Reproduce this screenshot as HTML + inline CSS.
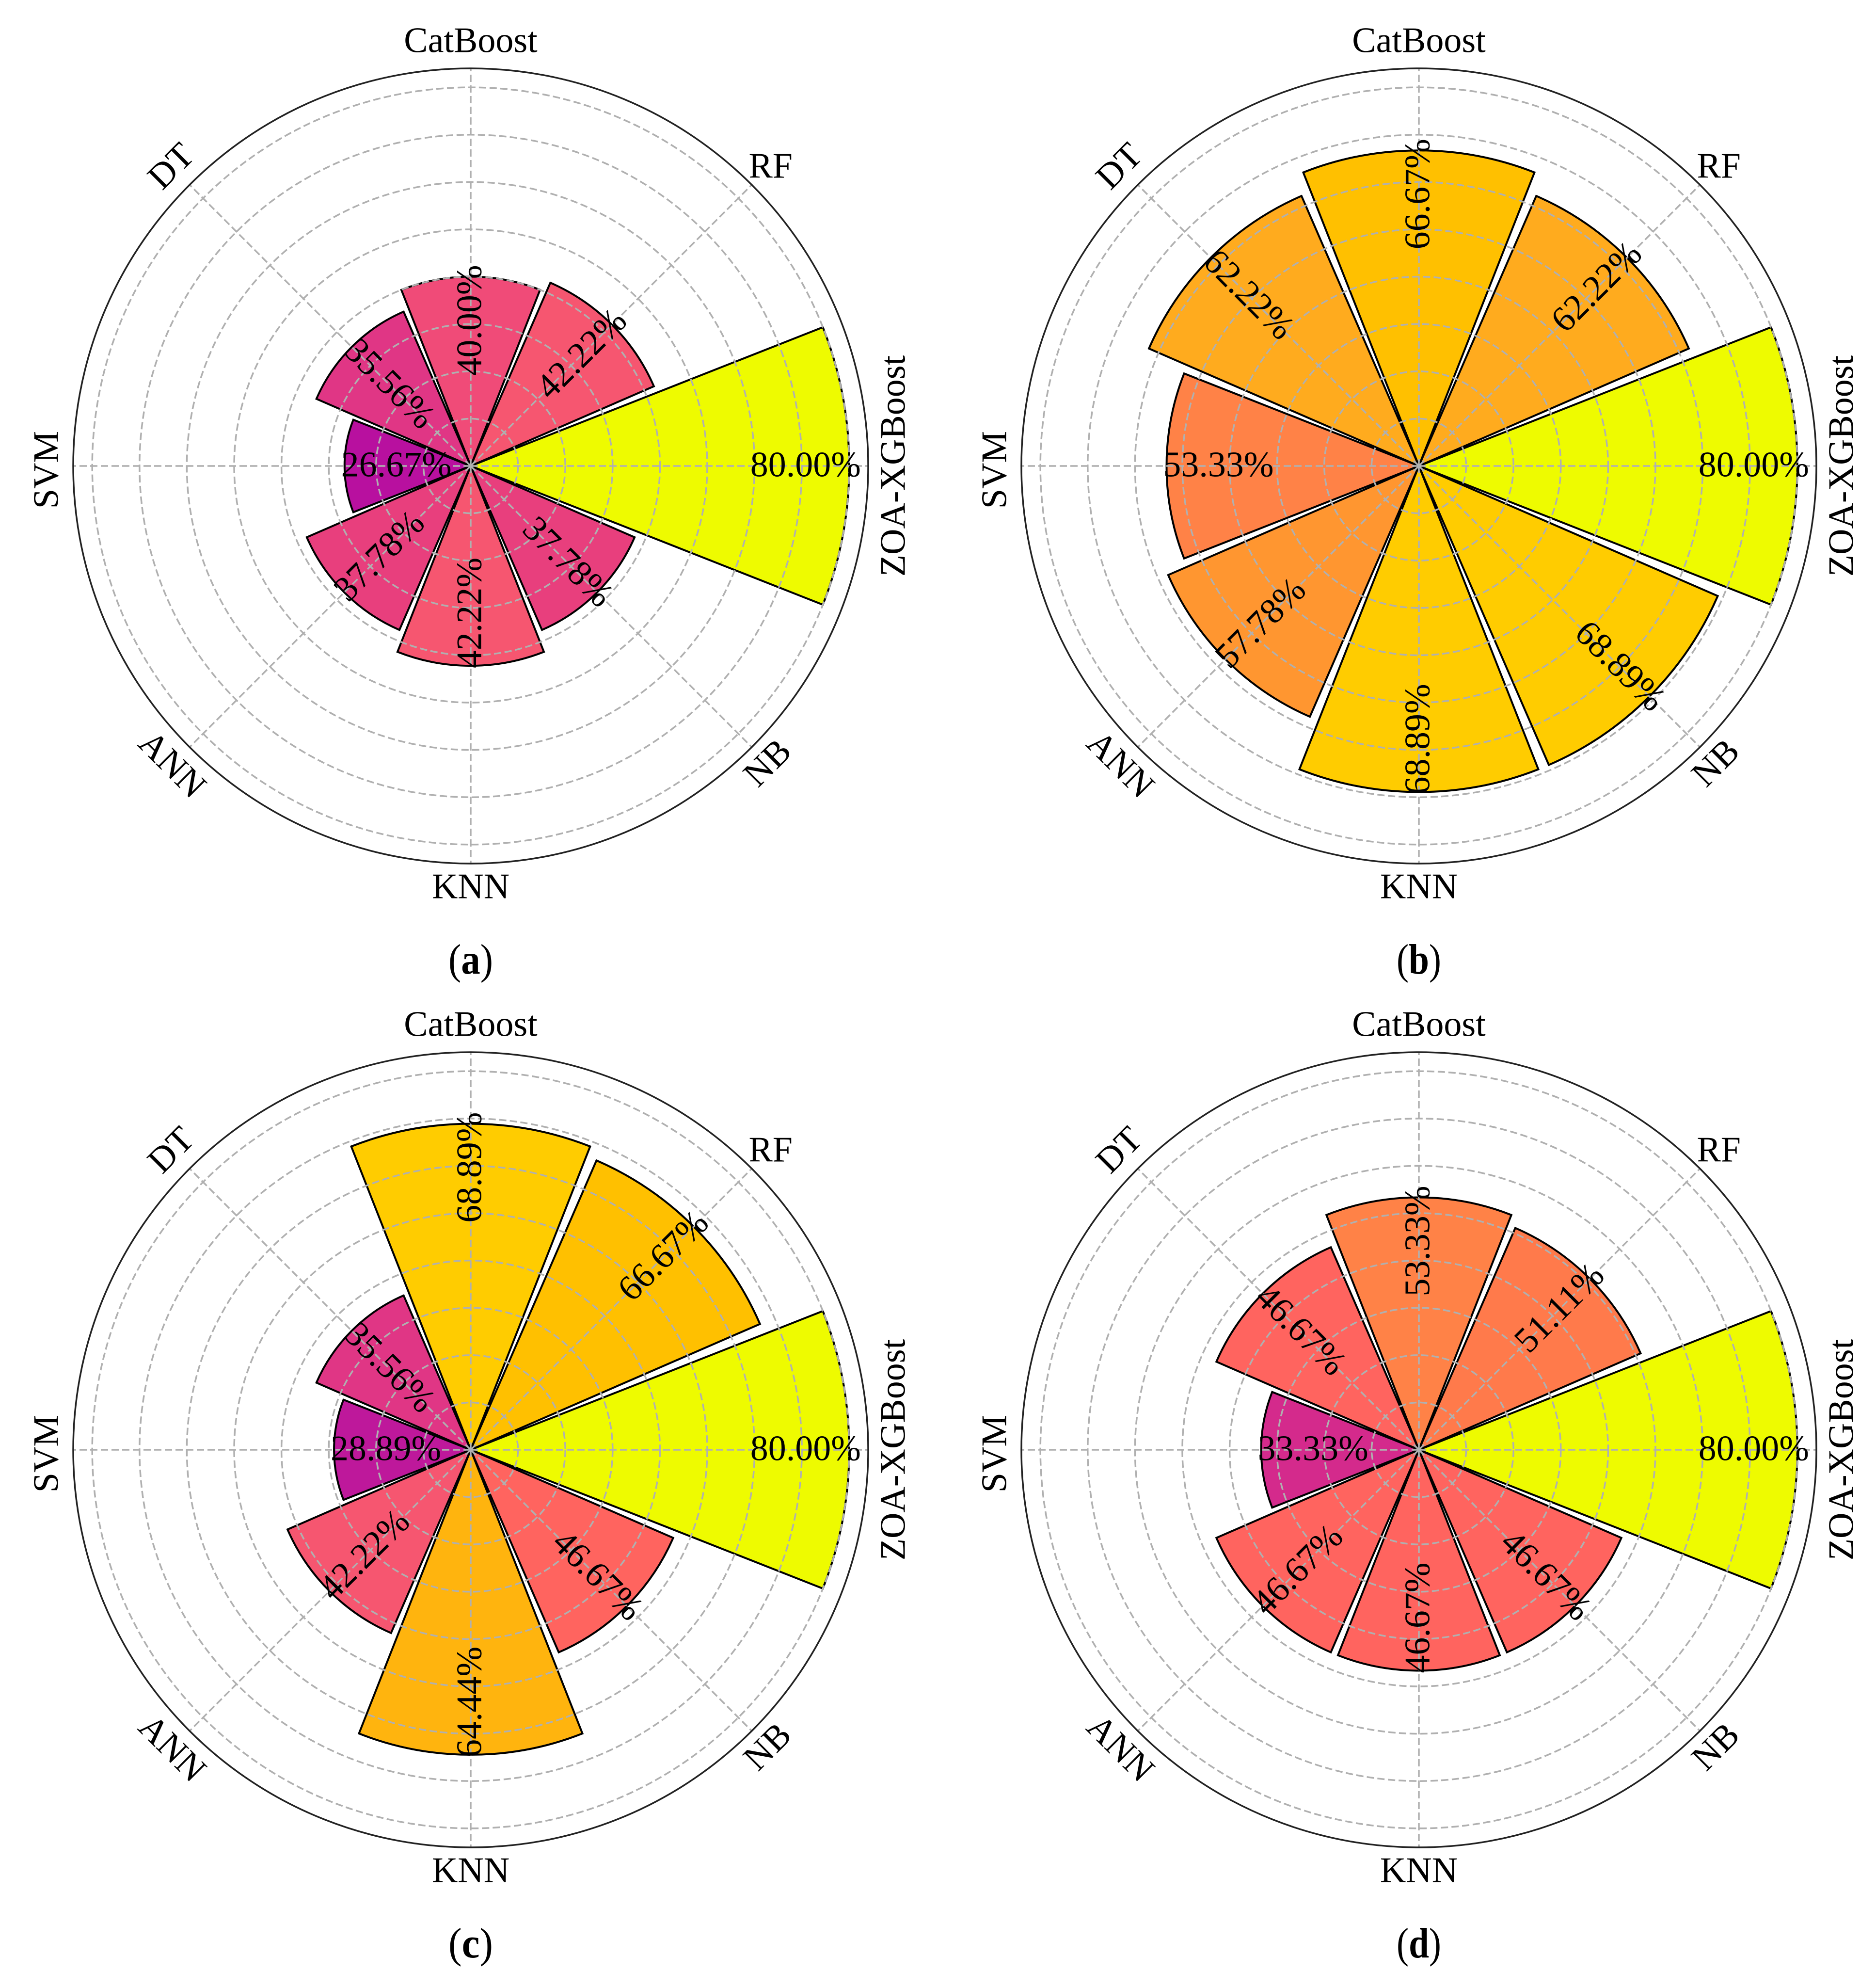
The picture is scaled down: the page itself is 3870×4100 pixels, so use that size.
<!DOCTYPE html>
<html lang="en">
<head>
<meta charset="utf-8">
<title>Polar bar charts of model scores</title>
<style>
html,body{margin:0;padding:0;background:#fff;width:3870px;height:4100px;overflow:hidden}
svg{display:block}
text{font-family:"Liberation Serif",serif;fill:#000}
</style>
</head>
<body>
<svg id="figure" xmlns="http://www.w3.org/2000/svg" width="3870" height="4100" viewBox="0 0 3870 4100"></svg>
<script>
const categories = ['ZOA-XGBoost','RF','CatBoost','DT','SVM','ANN','KNN','NB'];
const radialTicks = [10,20,30,40,50,60,70,80];
const panelLetters = ['a','b','c','d'];
const valuesA = [80,42.22,40,35.56,26.67,37.78,42.22,37.78];
const valuesB = [80,62.22,66.67,62.22,53.33,57.78,68.89,68.89];
const valuesC = [80,66.67,68.89,35.56,28.89,42.22,64.44,46.67];
const valuesD = [80,51.11,53.33,46.67,33.33,46.67,46.67,46.67];
const panelValues = [valuesA,valuesB,valuesC,valuesD];

const NS = 'http://www.w3.org/2000/svg';
const svg = document.getElementById('figure');
const FONT = 74;
const SCALE = 9.76;
const OUTER = 820;
const HALF_WIDTH = 21.5;

function rScale(v){ return v * SCALE; }
function thetaScale(i){ return i * 360 / categories.length; }
function px(cx,r,deg){ return cx + r * Math.cos(deg * Math.PI / 180); }
function py(cy,r,deg){ return cy - r * Math.sin(deg * Math.PI / 180); }
function panelX(i){ return i % 2 === 0 ? 971 : 2927; }
function panelY(i){ return i < 2 ? 961 : 2990; }

function barColor(v){
  const stops = [[26.67,[184,16,159]],[28.89,[190,24,155]],[33.33,[212,42,140]],[35.56,[224,54,133]],
    [37.78,[232,63,125]],[40,[240,75,120]],[42.22,[246,86,112]],[46.67,[255,100,95]],[51.11,[255,122,75]],
    [53.33,[255,130,71]],[57.78,[255,150,48]],[62.22,[255,171,30]],[64.44,[255,180,14]],[66.67,[255,192,0]],
    [68.89,[255,204,0]],[80,[238,251,0]]];
  if (v <= stops[0][0]) return 'rgb(' + stops[0][1].join(',') + ')';
  for (let k = 1; k < stops.length; k++) {
    if (v <= stops[k][0]) {
      const t = (v - stops[k-1][0]) / (stops[k][0] - stops[k-1][0]);
      const c = stops[k][1].map(function(x,j){ return Math.round(stops[k-1][1][j] + (x - stops[k-1][1][j]) * t); });
      return 'rgb(' + c.join(',') + ')';
    }
  }
  return 'rgb(238,251,0)';
}

function axisLabelRotation(i){ return [-90,0,0,-45,-90,45,0,-45][i]; }
function axisLabelRadius(i){ return [871,875,878,875,876,870,867,865][i]; }
function axisLabelAlong(i){ return [0,0,0,0,8,0,0,0][i]; }
function valueRotation(i){ return [0,-45,-90,45,0,-45,-90,45][i]; }
function valueInset(i){ return [90,87,90,109,107,104,109,87][i]; }

function slug(s){ return s.toLowerCase().replace(/[^a-z0-9]+/g,'-'); }

function drawPanel(p){
  const cx = panelX(p), cy = panelY(p);
  const values = panelValues[p];
  const letter = panelLetters[p];

  const group = document.createElementNS(NS,'g');
  
  
  svg.appendChild(group);

  values.forEach(function(v,i){
    const r = rScale(v), mid = thetaScale(i);
    const a0 = mid - HALF_WIDTH, a1 = mid + HALF_WIDTH;
    const bar = document.createElementNS(NS,'path');
    
    
    bar.setAttribute('d', 'M' + cx + ' ' + cy + 'L' + px(cx,r,a0) + ' ' + py(cy,r,a0) +
      'A' + r + ' ' + r + ' 0 0 0 ' + px(cx,r,a1) + ' ' + py(cy,r,a1) + 'Z');
    bar.setAttribute('fill', barColor(v));
    bar.setAttribute('stroke', '#000');
    bar.setAttribute('stroke-width', '4');
    bar.setAttribute('stroke-linejoin', 'miter');
    group.appendChild(bar);
  });

  radialTicks.forEach(function(t){
    const ring = document.createElementNS(NS,'circle');
    
    
    ring.setAttribute('cx', cx);
    ring.setAttribute('cy', cy);
    ring.setAttribute('r', rScale(t));
    ring.setAttribute('fill', 'none');
    ring.setAttribute('stroke', '#b0b0b0');
    ring.setAttribute('stroke-width', '3.5');
    ring.setAttribute('stroke-dasharray', '15 7');
    group.appendChild(ring);
  });

  categories.forEach(function(name,i){
    const deg = thetaScale(i);
    const spoke = document.createElementNS(NS,'line');
    
    
    spoke.setAttribute('x1', cx);
    spoke.setAttribute('y1', cy);
    spoke.setAttribute('x2', px(cx,OUTER,deg));
    spoke.setAttribute('y2', py(cy,OUTER,deg));
    spoke.setAttribute('stroke', '#b0b0b0');
    spoke.setAttribute('stroke-width', '3.5');
    spoke.setAttribute('stroke-dasharray', '15 7');
    group.appendChild(spoke);
  });

  const spine = document.createElementNS(NS,'circle');
  
  
  spine.setAttribute('cx', cx);
  spine.setAttribute('cy', cy);
  spine.setAttribute('r', OUTER);
  spine.setAttribute('fill', 'none');
  spine.setAttribute('stroke', '#222');
  spine.setAttribute('stroke-width', '3.5');
  group.appendChild(spine);

  categories.forEach(function(name,i){
    const deg = thetaScale(i);
    const x = px(cx,axisLabelRadius(i),deg), y = py(cy,axisLabelRadius(i),deg) + axisLabelAlong(i);
    const label = document.createElementNS(NS,'text');
    
    
    label.setAttribute('text-anchor', 'middle');
    label.setAttribute('font-size', FONT);
    label.setAttribute('dy', '0.33em');
    label.setAttribute('x', x);
    label.setAttribute('y', y);
    label.setAttribute('transform', 'rotate(' + axisLabelRotation(i) + ' ' + x + ' ' + y + ')');
    label.textContent = name;
    group.appendChild(label);
  });

  values.forEach(function(v,i){
    const deg = thetaScale(i);
    const r = rScale(v) - valueInset(i);
    const x = px(cx,r,deg), y = py(cy,r,deg);
    const label = document.createElementNS(NS,'text');
    
    
    label.setAttribute('text-anchor', 'middle');
    label.setAttribute('font-size', FONT);
    label.setAttribute('dy', '0.29em');
    label.setAttribute('x', x);
    label.setAttribute('y', y);
    label.setAttribute('transform', 'rotate(' + valueRotation(i) + ' ' + x + ' ' + y + ')');
    label.textContent = v.toFixed(2) + '%';
    group.appendChild(label);
  });

  const caption = document.createElementNS(NS,'text');
  
  
  caption.setAttribute('text-anchor', 'middle');
  caption.setAttribute('font-size', '88');
  caption.setAttribute('textLength', '92');
  caption.setAttribute('lengthAdjust', 'spacingAndGlyphs');
  caption.setAttribute('x', cx);
  caption.setAttribute('y', cy + 1047);
  const open = document.createElementNS(NS,'tspan');
  open.textContent = '(';
  caption.appendChild(open);
  const bold = document.createElementNS(NS,'tspan');
  bold.setAttribute('font-weight', 'bold');
  bold.textContent = letter;
  caption.appendChild(bold);
  const close = document.createElementNS(NS,'tspan');
  close.textContent = ')';
  caption.appendChild(close);
  group.appendChild(caption);
}

panelValues.forEach(function(_,p){ drawPanel(p); });
</script>
</body>
</html>
